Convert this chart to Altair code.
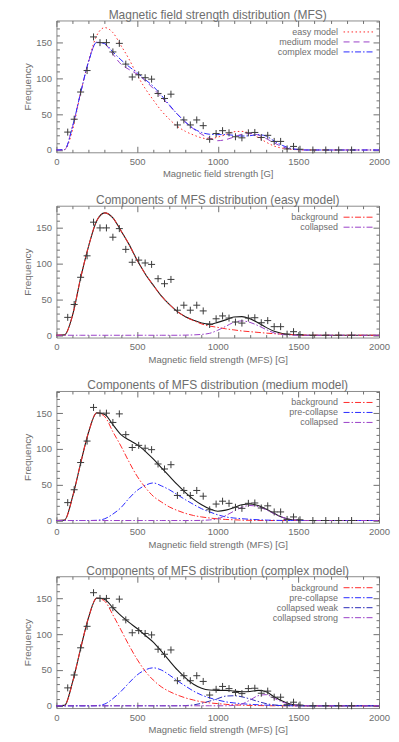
import altair as alt
import pandas as pd

# ---------------- data ----------------
GRID = [0, 50, 100, 150, 200, 250, 300, 350, 400, 450, 500, 550, 600, 650, 700,
        750, 800, 850, 900, 950, 1000, 1050, 1100, 1150, 1200, 1250, 1300, 1350,
        1400, 1450, 1500, 1550, 1600, 1650, 1700, 1750, 1800, 1850, 1900, 1950, 2000]

CROSS_X = [70, 110, 150, 190, 230, 270, 310, 350, 390, 430, 470, 510, 550, 590,
           630, 670, 710, 750, 790, 830, 870, 910, 950, 990, 1030, 1070, 1110,
           1150, 1190, 1230, 1270, 1310, 1350, 1390, 1430, 1470, 1510,
           1590, 1670, 1750, 1830]
CROSS_Y = [25, 43, 81, 111, 158, 150, 150, 137, 149, 120, 102, 105, 101, 99,
           79, 72, 78, 35, 42, 35, 42, 34, 15, 23, 27, 24, 18.5,
           17, 24, 24.5, 17.5, 20.5, 12, 12, 1.5, 5, 1,
           0, 0, 0, 0]

EASY_TOTAL = [0, 0.5, 28, 80, 125, 160, 171, 164, 146, 127, 105, 86, 70, 55, 43,
              33, 26, 21, 17, 15.5, 18, 21.5, 25.5, 26, 23, 17.5, 11, 5.5,
              2.5, 1, 0.3, 0, 0, 0, 0, 0, 0, 0, 0, 0, 0]
EASY_BACKGROUND = [0, 0.5, 28, 80, 125, 160, 171, 164, 146, 127, 105, 86, 70, 55, 43,
                   33, 25.8, 20.5, 15.8, 12.8, 11, 9, 7.5, 6, 5, 4, 3, 2.2,
                   1.5, 1, 0.6, 0.3, 0.1, 0, 0, 0, 0, 0, 0, 0, 0]
EASY_COLLAPSED = [0, 0, 0, 0, 0, 0, 0, 0, 0, 0, 0, 0, 0, 0, 0,
                  0, 0.2, 0.5, 1.2, 2.7, 7, 12.5, 18, 20, 18, 13.5, 8, 3.3,
                  1, 0.3, 0, 0, 0, 0, 0, 0, 0, 0, 0, 0, 0]

MEDIUM_TOTAL = [0, 0.5, 33, 80, 124, 150.5, 148, 134, 120, 112.5, 106, 97, 86, 74, 62,
                50, 39, 29.5, 22, 16.3, 13, 14.5, 18, 22, 23, 21, 16, 10,
                4.5, 1.5, 0.4, 0, 0, 0, 0, 0, 0, 0, 0, 0, 0]
MEDIUM_BACKGROUND = [0, 0.5, 33, 80, 124, 150.5, 145, 124, 104, 82, 62, 46.5, 34, 26, 19,
                     14, 10, 7, 5, 3.5, 2.3, 1.5, 1, 0.5, 0.3, 0.1, 0, 0,
                     0, 0, 0, 0, 0, 0, 0, 0, 0, 0, 0, 0, 0]
MEDIUM_PRECOLLAPSE = [0, 0, 0, 0, 0, 0.3, 2.5, 9, 18, 31, 42, 49, 52.5, 48.5, 43,
                      36, 29, 22.5, 16.5, 12, 8, 5, 3.5, 2.5, 1.7, 1.1, 0.6, 0.3,
                      0.1, 0, 0, 0, 0, 0, 0, 0, 0, 0, 0, 0, 0]
MEDIUM_COLLAPSED = [0, 0, 0, 0, 0, 0, 0, 0, 0, 0, 0, 0, 0, 0, 0,
                    0, 0, 0, 0.2, 0.8, 2.5, 7, 13, 18.5, 21, 19.5, 15, 9.5,
                    4.5, 1.5, 0.4, 0, 0, 0, 0, 0, 0, 0, 0, 0, 0]

COMPLEX_TOTAL = [0, 0.5, 33, 80, 124, 150.5, 148.5, 137, 126, 116.5, 108, 98.5, 89, 76.5, 63,
                 50, 39, 30, 24.5, 22, 21.5, 21.5, 20.5, 19.5, 20, 21.5, 19.5, 12.5,
                 6.5, 2.5, 0.7, 0, 0, 0, 0, 0, 0, 0, 0, 0, 0]
COMPLEX_BACKGROUND = [0, 0.5, 33, 80, 124, 150.5, 146, 127, 106, 84.5, 65, 48.5, 36, 26.5, 20,
                      15, 11, 8, 5.5, 4, 3, 2, 1.3, 0.8, 0.5, 0.3, 0.1, 0,
                      0, 0, 0, 0, 0, 0, 0, 0, 0, 0, 0, 0, 0]
COMPLEX_PRECOLLAPSE = [0, 0, 0, 0, 0, 0.3, 2.5, 10, 20, 32, 43, 50, 53, 50, 43,
                       35, 27.5, 20.5, 15, 11, 8, 5.5, 4, 2.9, 2, 1.4, 0.9, 0.5,
                       0.3, 0.1, 0, 0, 0, 0, 0, 0, 0, 0, 0, 0, 0]
COMPLEX_WEAK = [0, 0, 0, 0, 0, 0, 0, 0, 0, 0, 0, 0, 0, 0, 0,
                0, 0.3, 1.2, 3.5, 6.5, 10, 13.5, 14, 12.5, 9.5, 6, 3, 1.2,
                0.4, 0.1, 0, 0, 0, 0, 0, 0, 0, 0, 0, 0, 0]
COMPLEX_STRONG = [0, 0, 0, 0, 0, 0, 0, 0, 0, 0, 0, 0, 0, 0, 0,
                  0, 0, 0, 0, 0, 0, 0, 0.5, 2.5, 8, 14, 15.5, 10.5,
                  5.3, 2.1, 0.6, 0.1, 0, 0, 0, 0, 0, 0, 0, 0, 0]

X_MAJOR = [0, 500, 1000, 1500, 2000]
X_MINOR = [100, 200, 300, 400, 600, 700, 800, 900, 1100, 1200, 1300, 1400,
           1600, 1700, 1800, 1900]
Y_MAJOR = [0, 50, 100, 150]
Y_MINOR = [10, 20, 30, 40, 60, 70, 80, 90, 110, 120, 130, 140, 160, 170, 180]

# ---------------- styling ----------------
FONT = "Liberation Sans"
TXT = "#6e6e6e"
AX = "#8c8c8c"
RED = "#ff2a2a"
BLUE = "#2a2aff"
PURPLE = "#9a40c8"
NAVY = "#2b2bb8"
DOT = [1.5, 2.5]
DASH = [6, 4]
DASHDOT = [6, 2, 1.5, 2]

XSC = alt.Scale(domain=[0, 2000], nice=False, zero=False)
YSC = alt.Scale(domain=[-3.2, 181], nice=False, zero=False)

points = pd.DataFrame({"x": CROSS_X, "y": CROSS_Y})


def long_df(names, arrays):
    frames = [pd.DataFrame({"x": GRID, "y": arr, "series": name})
              for name, arr in zip(names, arrays)]
    return pd.concat(frames, ignore_index=True)


def main_x_axis(title):
    return alt.Axis(orient="bottom", values=X_MAJOR, format="d", ticks=False, tickSize=0,
                    domain=False, grid=False, labelFont=FONT, labelFontSize=9.5,
                    labelColor=TXT, labelPadding=4, labelFlush=False,
                    labelOverlap=False, title=title, titleFont=FONT,
                    titleFontSize=9.5, titleFontWeight="normal", titleColor=TXT,
                    titlePadding=3)


def main_y_axis():
    return alt.Axis(orient="left", values=Y_MAJOR, format="d", ticks=False, tickSize=0,
                    domain=False, grid=False, labelFont=FONT, labelFontSize=9.5,
                    labelColor=TXT, labelPadding=5, labelOverlap=False,
                    title="Frequency", titleFont=FONT, titleFontSize=10,
                    titleFontWeight="normal", titleColor=TXT, titlePadding=3)


def tick_axis(orient, values, size):
    return alt.Axis(orient=orient, values=values, labels=False, domain=False,
                    grid=False, ticks=True, tickSize=size, offset=-size,
                    tickColor="#707070", tickWidth=1, title=None)


def tick_layers():
    combos = [("bottom", X_MAJOR, 6, "left", Y_MAJOR, 6),
              ("bottom", X_MINOR, 3, "left", Y_MINOR, 3),
              ("top", X_MAJOR, 6, "right", Y_MAJOR, 6),
              ("top", X_MINOR, 3, "right", Y_MINOR, 3)]
    out = []
    for xo, xv, xs, yo, yv, ys in combos:
        out.append(alt.Chart(points).mark_point(opacity=0).encode(
            x=alt.X("x:Q", scale=XSC, axis=tick_axis(xo, xv, xs)),
            y=alt.Y("y:Q", scale=YSC, axis=tick_axis(yo, yv, ys))))
    return out


def legend(dash=None):
    kw = dict(title=None, orient="none", legendX=273, legendY=7,
              symbolType="M2.5,0H10", symbolSize=64, symbolStrokeWidth=1,
              labelAlign="right", labelOffset=0, labelFont=FONT,
              labelFontSize=9, labelColor=TXT, rowPadding=0, padding=0)
    if dash is not None:
        kw["symbolDash"] = dash
    return alt.Legend(**kw)


def panel(title, xtitle, names, colors, dashes, arrays, total):
    layers = []
    if total is not None:
        tdf = pd.DataFrame({"x": GRID, "y": total})
        layers.append(alt.Chart(tdf).mark_line(
            interpolate="monotone", color="#1a1a1a", strokeWidth=1.1).encode(
            x=alt.X("x:Q", scale=XSC, axis=None),
            y=alt.Y("y:Q", scale=YSC, axis=None)))
    enc = dict(x=alt.X("x:Q", scale=XSC, axis=main_x_axis(xtitle)),
               y=alt.Y("y:Q", scale=YSC, axis=main_y_axis()))
    if isinstance(dashes[0], list):
        leg = legend()
        enc["color"] = alt.Color("series:N", scale=alt.Scale(domain=names, range=colors), legend=leg)
        enc["strokeDash"] = alt.StrokeDash("series:N", scale=alt.Scale(domain=names, range=dashes), legend=leg)
        mark = alt.Chart(long_df(names, arrays)).mark_line(interpolate="monotone", strokeWidth=1)
    else:
        enc["color"] = alt.Color("series:N", scale=alt.Scale(domain=names, range=colors),
                                 legend=legend(dashes))
        mark = alt.Chart(long_df(names, arrays)).mark_line(
            interpolate="monotone", strokeWidth=1, strokeDash=dashes)
    layers.append(mark.encode(**enc))
    layers.append(alt.Chart(points).mark_point(
        shape="M-1,0H1M0,-1V1", size=49, filled=False, color="#3a3a3a",
        strokeWidth=1, opacity=1).encode(
        x=alt.X("x:Q", scale=XSC, axis=None),
        y=alt.Y("y:Q", scale=YSC, axis=None)))
    layers += tick_layers()
    return alt.layer(*layers).resolve_axis(x="independent", y="independent").properties(
        width=323, height=132,
        title=alt.Title(title, font=FONT, fontSize=12, fontWeight="normal",
                        color=TXT, offset=-2, anchor="middle"))


p1 = panel("Magnetic field strength distribution (MFS)", "Magnetic field strength [G]",
           ["easy model", "medium model", "complex model"], [RED, PURPLE, BLUE],
           [DOT, DASH, DASHDOT], [EASY_TOTAL, MEDIUM_TOTAL, COMPLEX_TOTAL], None)
p2 = panel("Components of MFS distribution (easy model)", "Magnetic field strength (MFS) [G]",
           ["background", "collapsed"], [RED, PURPLE], DASHDOT,
           [EASY_BACKGROUND, EASY_COLLAPSED], EASY_TOTAL)
p3 = panel("Components of MFS distribution (medium model)", "Magnetic field strength (MFS) [G]",
           ["background", "pre-collapse", "collapsed"], [RED, BLUE, PURPLE], DASHDOT,
           [MEDIUM_BACKGROUND, MEDIUM_PRECOLLAPSE, MEDIUM_COLLAPSED], MEDIUM_TOTAL)
p4 = panel("Components of MFS distribution (complex model)", "Magnetic field strength (MFS) [G]",
           ["background", "pre-collapse", "collapsed weak", "collapsed strong"],
           [RED, BLUE, NAVY, PURPLE], DASHDOT,
           [COMPLEX_BACKGROUND, COMPLEX_PRECOLLAPSE, COMPLEX_WEAK, COMPLEX_STRONG],
           COMPLEX_TOTAL)

chart = alt.vconcat(p1, p2, p3, p4, spacing=53.5, bounds="flush").resolve_scale(
    color="independent", strokeDash="independent").resolve_legend(
    color="independent", strokeDash="independent").configure_view(
    stroke=AX, strokeWidth=1).properties(
    padding={"left": 13.5, "top": 0, "right": 0, "bottom": 0})

chart.save("out.html", embed_options={"renderer": "svg", "actions": False})
